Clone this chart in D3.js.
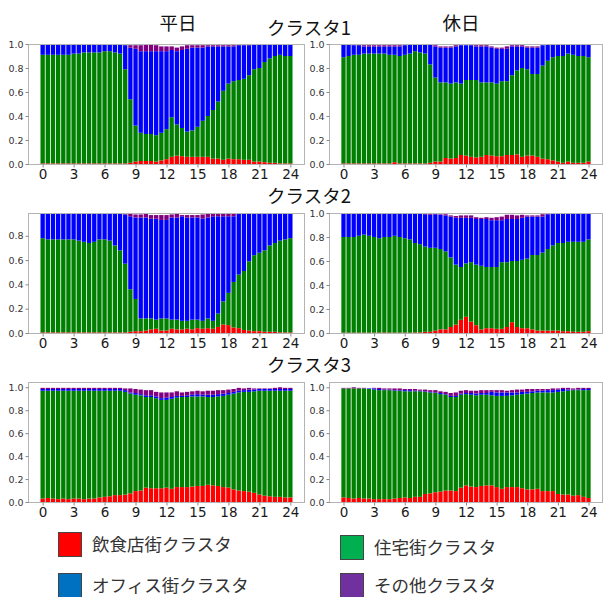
<!DOCTYPE html>
<html>
<head>
<meta charset="utf-8">
<script src="https://cdn.jsdelivr.net/npm/d3@7"></script>
<style>
    body { margin: 0; background: #fff; }
    svg { display: block; }
</style>
</head>
<body>
<div id="chart"></div>
<script>
// ---- data (30-minute bins 0:00 .. 24:00) ----
const hours = d3.range(0, 24.5, 0.5);
const xTicks = [0, 3, 6, 9, 12, 15, 18, 21, 24];
const yTicks = [0, 0.2, 0.4, 0.6, 0.8, 1.0];

const columnTitles = ['平日', '休日'];
const rowTitles = ['クラスタ1', 'クラスタ2', 'クラスタ3'];
const seriesKeys = ['food', 'home', 'office', 'other'];
const seriesLabels = ['飲食店街クラスタ', '住宅街クラスタ', 'オフィス街クラスタ', 'その他クラスタ'];
const barColors = ['#ff0000', '#008000', '#0000ff', '#800080'];
const legendColors = ['#ff0000', '#00b050', '#0070c0', '#7030a0'];

// cluster 1, weekday
const wd1Food = [.005,.005,.005,.005,.005,.005,.005,.005,.005,.005,.005,.005,.005,.005,.005,.005,
    .005,.01,.02,.025,.025,.025,.02,.03,.04,.06,.07,.065,.06,.06,.06,.06,.06,.045,.045,.035,.045,.04,.04,.035,.035,.02,.02,.015,.01,.01,.005,.005,.005];
const wd1Home = [.905,.905,.905,.905,.905,.905,.915,.915,.925,.925,.925,.925,.935,.935,.925,.915,
    .785,.53,.30,.235,.225,.225,.22,.23,.25,.33,.26,.235,.21,.22,.25,.30,.34,.405,.475,.575,.625,.65,.66,.675,.705,.77,.78,.835,.87,.89,.905,.895,.895];
const wd1Office = [.09,.09,.09,.09,.09,.09,.08,.08,.07,.07,.07,.07,.06,.06,.07,.08,
    .20,.43,.64,.68,.69,.69,.70,.68,.65,.56,.61,.65,.69,.69,.66,.61,.58,.53,.46,.37,.31,.29,.29,.28,.25,.21,.20,.15,.12,.10,.09,.10,.10];
const wd1Other = [0,0,0,0,0,0,0,0,0,0,0,0,0,0,0,0,
    .01,.02,.03,.05,.06,.06,.05,.04,.04,.03,.03,.03,.03,.02,.02,.02,.01,.01,.01,.01,.01,.01,.005,.005,.005,0,0,0,0,0,0,0,0];

// cluster 1, holiday
const hd1Food = [.005,.005,.005,.005,.005,.005,.005,.005,.005,.005,.015,.005,.005,.005,.005,.005,.005,
    .01,.02,.02,.05,.045,.05,.075,.07,.06,.055,.06,.075,.07,.065,.065,.075,.075,.08,.06,.07,.07,.06,.045,.04,.03,.02,.01,.02,.01,.01,.01,.02];
const hd1Home = [.885,.895,.905,.905,.915,.915,.915,.915,.915,.905,.895,.895,.905,.915,.935,.925,.915,
    .82,.70,.66,.63,.625,.63,.595,.63,.64,.645,.62,.605,.61,.605,.625,.615,.665,.70,.74,.72,.68,.69,.775,.82,.86,.88,.89,.90,.90,.89,.89,.87];
const hd1Office = [.11,.10,.08,.08,.06,.06,.06,.06,.06,.07,.07,.08,.08,.08,.06,.07,.08,
    .17,.26,.29,.29,.30,.30,.32,.29,.29,.28,.30,.30,.29,.29,.27,.27,.24,.20,.18,.18,.22,.22,.17,.14,.11,.10,.10,.08,.09,.10,.10,.11];
const hd1Other = [0,0,.01,.01,.01,.01,.01,.01,.01,.01,.01,.01,0,0,0,0,0,0,
    .01,.01,.01,.01,.01,0,0,0,.01,.01,.01,.01,.01,.01,.02,.01,.01,.01,.01,.01,.01,0,0,0,0,0,0,0,0,0,0];

// cluster 2, weekday
const wd2Food = [.005,.005,.005,.005,.005,.005,.005,.005,.005,.005,.005,.005,.005,.005,.005,.005,.005,
    .01,.015,.015,.02,.03,.035,.02,.02,.035,.03,.03,.035,.03,.04,.035,.04,.035,.05,.07,.065,.045,.04,.025,.02,.015,.015,.01,.01,.01,.005,.005,.005];
const wd2Home = [.775,.765,.765,.765,.765,.765,.765,.755,.745,.735,.745,.765,.765,.755,.715,.675,.565,
    .35,.265,.105,.10,.09,.075,.10,.10,.075,.08,.07,.065,.08,.07,.065,.08,.065,.11,.19,.265,.375,.44,.485,.57,.625,.645,.67,.71,.73,.755,.765,.775];
const wd2Office = [.215,.225,.225,.225,.225,.225,.225,.235,.245,.255,.245,.225,.225,.235,.27,.305,.405,
    .60,.67,.83,.83,.82,.83,.81,.81,.84,.84,.86,.85,.84,.84,.84,.83,.86,.80,.70,.63,.54,.50,.48,.405,.355,.335,.315,.275,.255,.235,.225,.215];
const wd2Other = [.005,.005,.005,.005,.005,.005,.005,.005,.005,.005,.005,.005,.005,.005,
    .005,.01,.015,.02,.025,.025,.03,.03,.03,.04,.04,.025,.035,.01,.02,.02,.02,.035,.035,.03,.025,.025,.02,.02,.01,.005,
    .005,.005,.005,.005,.005,.005,.005,.005,.005];

// cluster 2, holiday
const hd2Food = [.003,.003,.003,.003,.003,.003,.003,.003,.005,.003,.003,.003,.003,.003,
    .005,.005,.01,.01,.02,.03,.03,.05,.07,.11,.135,.095,.065,.03,.04,.04,.035,.035,.05,.09,.05,.04,.04,.03,.02,.02,.02,.02,.02,.015,.015,.01,.01,.01,.015];
const hd2Home = [.797,.797,.797,.807,.817,.807,.797,.787,.795,.797,.807,.797,.787,.777,
    .745,.735,.71,.70,.69,.67,.65,.58,.50,.44,.445,.495,.505,.53,.51,.51,.515,.555,.54,.51,.55,.57,.58,.62,.63,.65,.68,.71,.73,.735,.745,.75,.75,.75,.765];
const hd2Office = [.20,.20,.20,.19,.18,.19,.20,.21,.20,.20,.19,.20,.21,.22,
    .25,.255,.27,.275,.28,.285,.30,.34,.39,.41,.38,.37,.38,.39,.40,.39,.39,.35,.36,.35,.35,.35,.35,.32,.32,.30,.29,.27,.25,.25,.24,.24,.24,.24,.22];
const hd2Other = [0,0,0,0,0,0,0,0,0,0,0,0,0,0,0,
    .005,.01,.01,.005,.005,.01,.01,.015,.02,.02,.02,.015,.01,.015,.02,.025,.03,.035,.035,.03,.025,.01,.01,.01,.02,.01,
    0,0,0,0,0,0,0,0];

// cluster 3, weekday
const wd3Food = [.03,.035,.03,.025,.03,.025,.03,.03,.025,.03,.03,.04,.045,.05,.06,.06,.065,.075,.095,.10,
    .125,.12,.12,.12,.125,.115,.13,.13,.13,.135,.14,.14,.15,.145,.14,.13,.125,.11,.10,.095,.09,.08,.065,.055,.05,.045,.045,.04,.04];
const wd3Home = [.94,.935,.94,.945,.94,.945,.94,.94,.945,.94,.94,.93,.925,.92,.91,.91,.895,.87,.84,.83,
    .79,.795,.785,.77,.765,.785,.78,.785,.785,.785,.78,.78,.765,.77,.78,.795,.81,.835,.855,.865,.87,.885,.905,.915,.92,.925,.925,.93,.93];
const wd3Office = [.015,.015,.015,.015,.015,.015,.015,.015,.015,.015,.015,.015,.015,.015,.015,.015,
    .015,.01,.015,.01,.015,.015,.015,.015,.02,.015,.015,.01,.015,.015,.02,.015,.02,.02,.02,.02,.015,.015,.015,.015,.02,.015,
    .015,.015,.015,.015,.015,.015,.015];
const wd3Other = [.01,.01,.01,.01,.01,.01,.01,.01,.01,.01,.01,.01,.01,.01,.01,.01,
    .015,.035,.035,.04,.045,.045,.04,.05,.045,.04,.04,.03,.03,.03,.03,.03,.035,.035,.035,.03,.03,.025,.025,.015,.015,.01,.005,.005,.005,.01,.015,.01,.01];

// cluster 3, holiday
const hd3Food = [.04,.035,.03,.035,.03,.03,.025,.025,.025,.025,.03,.035,.04,.035,.045,.045,.07,.075,.085,.09,
    .10,.10,.095,.125,.145,.135,.13,.14,.145,.145,.13,.115,.13,.13,.13,.12,.11,.11,.115,.095,.095,.095,.07,.065,.065,.055,.06,.045,.035];
const hd3Home = [.95,.955,.96,.955,.96,.955,.955,.95,.95,.95,.94,.935,.925,.93,.92,.92,.89,.88,.865,.85,
    .835,.815,.82,.81,.795,.80,.80,.795,.79,.785,.795,.81,.795,.80,.805,.82,.835,.84,.84,.86,.86,.86,.89,.90,.905,.92,.915,.93,.94];
const hd3Office = [0,0,0,0,0,.005,.01,.01,.005,.005,.005,.005,.01,.01,.005,.005,.005,.005,.005,.01,
    .005,.01,.01,.01,.01,.015,.015,.015,.015,.03,.03,.03,.03,.025,.02,.02,.015,.015,.015,.015,.02,.02,.02,.02,.01,.005,.005,.01,.01];
const hd3Other = [.005,.005,.01,.005,.005,0,.005,.01,.01,.01,.015,.015,.01,.01,.015,.01,.015,.015,.02,.015,
    .02,.025,.03,.025,.025,.02,.025,.025,.025,.015,.02,.02,.015,.02,.025,.02,.025,.02,.015,.015,.01,.015,.01,.01,.015,.01,.015,.01,.01];

// ---- layout ----
const W = 604, H = 597;
const colX = [[28, 305], [329, 603]];
const rowY = [[44, 164], [213, 333], [382, 502]];

const panels = [
    { row: 0, col: 0, yMax: 1.0,   series: [wd1Food, wd1Home, wd1Office, wd1Other] },
    { row: 0, col: 1, yMax: 1.0,   series: [hd1Food, hd1Home, hd1Office, hd1Other] },
    { row: 1, col: 0, yMax: 0.987, series: [wd2Food, wd2Home, wd2Office, wd2Other] },
    { row: 1, col: 1, yMax: 1.0,   series: [hd2Food, hd2Home, hd2Office, hd2Other] },
    { row: 2, col: 0, yMax: 1.046, series: [wd3Food, wd3Home, wd3Office, wd3Other] },
    { row: 2, col: 1, yMax: 1.046, series: [hd3Food, hd3Home, hd3Office, hd3Other] }
];

const svg = d3.select('#chart')
    .append('svg')
    .attr('width', W)
    .attr('height', H)
    .style('font-family', '"Noto Sans CJK JP", "DejaVu Sans", sans-serif');

const stack = d3.stack().keys(seriesKeys);
const barWidth = 0.42; // hours

function drawPanel(p, idx) {
    const [x0, x1] = colX[p.col];
    const [y0, y1] = rowY[p.row];

    const x = d3.scaleLinear().domain([-1.42, 25.42]).range([x0, x1]);
    const y = d3.scaleLinear().domain([0, p.yMax]).range([y1, y0]);

    const rows = hours.map((h, i) => {
        const r = { hour: h };
        seriesKeys.forEach((k, j) => { r[k] = p.series[j][i]; });
        return r;
    });
    const layers = stack(rows);

    const g = svg.append('g').attr('class', 'panel');

    svg.append('clipPath')
        .attr('id', `clip-${idx}`)
        .append('rect')
        .attr('x', x0).attr('y', y0)
        .attr('width', x1 - x0).attr('height', y1 - y0);

    const bars = g.append('g').attr('clip-path', `url(#clip-${idx})`);
    const bw = x(barWidth) - x(0);

    layers.forEach((layer, j) => {
        bars.selectAll(null)
            .data(layer)
            .enter()
            .append('rect')
            .attr('x', d => x(d.data.hour) - bw / 2)
            .attr('width', bw)
            .attr('y', d => y(d[1]))
            .attr('height', d => Math.max(0, y(d[0]) - y(d[1])))
            .attr('fill', barColors[j]);
    });

    // frame
    g.append('rect')
        .attr('x', x0 + 0.5).attr('y', y0 + 0.5)
        .attr('width', x1 - x0 - 1).attr('height', y1 - y0)
        .attr('fill', 'none')
        .attr('stroke', '#b4b4b4')
        .attr('stroke-width', 1);

    // y axis
    const yAxis = g.append('g')
        .attr('transform', `translate(${x0 + 0.5},0)`)
        .call(d3.axisLeft(y)
            .tickValues(yTicks.filter(t => t <= p.yMax + 1e-9))
            .tickFormat(d3.format('.1f'))
            .tickSize(3)
            .tickPadding(2));
    yAxis.select('.domain').remove();
    yAxis.selectAll('line').attr('stroke', '#888');
    yAxis.selectAll('text')
        .attr('fill', '#333')
        .style('font-family', '"DejaVu Sans", sans-serif')
        .style('font-size', '9.5px');

    // x axis
    const xAxis = g.append('g')
        .attr('transform', `translate(0,${y1 + 0.5})`)
        .call(d3.axisBottom(x)
            .tickValues(xTicks)
            .tickFormat(d3.format('d'))
            .tickSize(3)
            .tickPadding(2));
    xAxis.select('.domain').remove();
    xAxis.selectAll('line').attr('stroke', '#888');
    xAxis.selectAll('text')
        .attr('fill', '#1a1a1a')
        .style('font-family', '"DejaVu Sans", sans-serif')
        .style('font-size', '13.5px');
}

panels.forEach(drawPanel);

// ---- titles ----
const titleStyle = sel => sel
    .attr('text-anchor', 'middle')
    .attr('fill', '#111')
    .style('font-size', '18.5px');

svg.append('text').call(titleStyle).attr('x', 178).attr('y', 30).text(columnTitles[0]);
svg.append('text').call(titleStyle).attr('x', 461).attr('y', 30).text(columnTitles[1]);

const rowTitleY = [35, 203, 372];
rowTitles.forEach((t, i) => {
    svg.append('text').call(titleStyle)
        .attr('x', 309)
        .attr('y', rowTitleY[i])
        .text(t);
});

// ---- legend ----
const legendPos = [
    { x: 58, y: 532 },
    { x: 340, y: 535 },
    { x: 58, y: 573 },
    { x: 340, y: 573 }
];

seriesLabels.forEach((label, i) => {
    const item = svg.append('g')
        .attr('transform', `translate(${legendPos[i].x},${legendPos[i].y})`);

    item.append('rect')
        .attr('x', 0.5).attr('y', 0.5)
        .attr('width', 23).attr('height', 24)
        .attr('fill', legendColors[i])
        .attr('stroke', '#444')
        .attr('stroke-width', 1);

    item.append('text')
        .attr('x', 34)
        .attr('y', 19)
        .attr('fill', '#333')
        .style('font-size', '17.5px')
        .text(label);
});
</script>
</body>
</html>
